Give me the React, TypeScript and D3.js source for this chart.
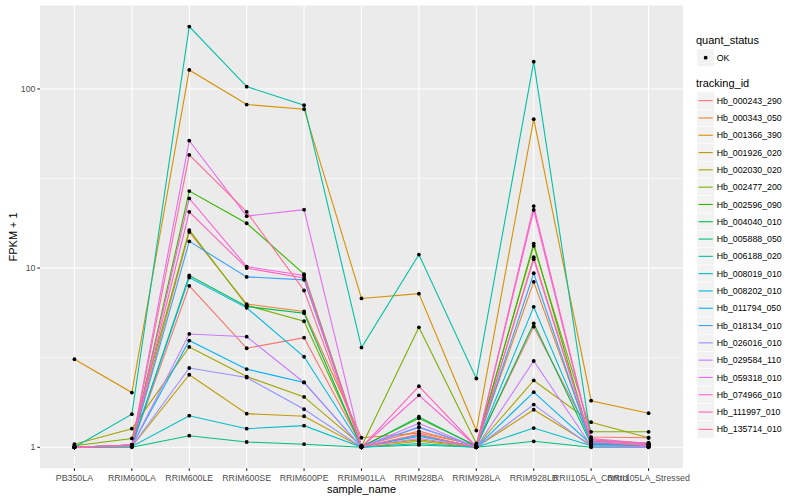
import React from "react";
import * as d3 from "d3";

const categories = [
  "PB350LA", "RRIM600LA", "RRIM600LE", "RRIM600SE", "RRIM600PE", "RRIM901LA",
  "RRIM928BA", "RRIM928LA", "RRIM928LB", "RRII105LA_Control", "RRII105LA_Stressed",
];

const trackingIds = [
  "Hb_000243_290", "Hb_000343_050", "Hb_001366_390", "Hb_001926_020", "Hb_002030_020",
  "Hb_002477_200", "Hb_002596_090", "Hb_004040_010", "Hb_005888_050", "Hb_006188_020",
  "Hb_008019_010", "Hb_008202_010", "Hb_011794_050", "Hb_018134_010", "Hb_026016_010",
  "Hb_029584_110", "Hb_059318_010", "Hb_074966_010", "Hb_111997_010", "Hb_135714_010",
];

const seriesColors = [
  "#F8766D", "#EA8331", "#D89000", "#C09B00", "#A3A500", "#7CAE00", "#39B600", "#00BB4E",
  "#00BF7D", "#00C1A3", "#00BFC4", "#00BAE0", "#00B0F6", "#35A2FF", "#9590FF", "#C77CFF",
  "#E76BF3", "#FA62DB", "#FF62BC", "#FF6C91",
];

const s000243_290 = [1.0, 1.02, 7.96, 3.57, 4.09, 1.02, 1.23, 1.02, 4.71, 1.14, 1.13];
const s000343_050 = [1.0, 1.03, 15.9, 6.3, 5.73, 1.13, 1.2, 1.03, 8.38, 1.08, 1.06];
const s001366_390 = [3.1, 2.02, 127.6, 81.8, 77.1, 6.77, 7.2, 1.24, 67.8, 1.82, 1.55];
const s001926_020 = [1.0, 1.01, 2.54, 1.54, 1.49, 1.0, 1.08, 1.0, 1.62, 1.03, 1.02];
const s002030_020 = [1.04, 1.27, 3.63, 2.48, 1.91, 1.02, 1.1, 1.01, 2.36, 1.38, 1.13];
const s002477_200 = [1.02, 1.12, 16.3, 6.2, 5.05, 1.01, 4.67, 1.05, 13.3, 1.22, 1.22];
const s002596_090 = [1.0, 1.03, 26.9, 17.8, 9.25, 1.01, 1.45, 1.02, 13.7, 1.05, 1.03];
const s004040_010 = [1.0, 1.02, 9.1, 6.1, 5.6, 1.0, 1.48, 1.01, 4.92, 1.04, 1.02];
const s005888_050 = [1.0, 1.0, 1.16, 1.07, 1.04, 1.0, 1.03, 1.0, 1.08, 1.0, 1.0];
const s006188_020 = [1.0, 1.53, 223, 103, 81.2, 3.6, 11.9, 2.42, 142, 1.1, 1.05];
const s008019_010 = [1.0, 1.01, 1.5, 1.27, 1.32, 1.0, 1.05, 1.0, 1.28, 1.02, 1.01];
const s008202_010 = [1.0, 1.02, 8.86, 6.0, 3.2, 1.01, 1.15, 1.01, 6.08, 1.06, 1.03];
const s011794_050 = [1.0, 1.02, 3.94, 2.73, 2.3, 1.0, 1.17, 1.0, 2.03, 1.04, 1.04];
const s018134_010 = [1.0, 1.03, 14.1, 8.93, 8.6, 1.01, 1.29, 1.01, 9.36, 1.05, 1.03];
const s026016_010 = [1.0, 1.01, 2.77, 2.45, 1.63, 1.0, 1.3, 1.0, 1.73, 1.01, 1.0];
const s029584_110 = [1.0, 1.02, 4.29, 4.14, 2.3, 1.0, 1.36, 1.0, 3.03, 1.02, 1.01];
const s059318_010 = [1.0, 1.03, 51.4, 19.5, 21.2, 1.01, 1.12, 1.01, 11.2, 1.07, 1.02];
const s074966_010 = [1.0, 1.03, 24.5, 10.2, 9.1, 1.0, 1.95, 1.01, 21.1, 1.1, 1.04];
const s111997_010 = [1.0, 1.03, 20.6, 10.0, 8.8, 1.0, 2.19, 1.01, 22.2, 1.12, 1.05];
const s135714_010 = [1.0, 1.02, 42.8, 20.6, 7.5, 1.01, 1.18, 1.0, 11.5, 1.08, 1.03];

const seriesValues = [
  s000243_290, s000343_050, s001366_390, s001926_020, s002030_020, s002477_200, s002596_090,
  s004040_010, s005888_050, s006188_020, s008019_010, s008202_010, s011794_050, s018134_010,
  s026016_010, s029584_110, s059318_010, s074966_010, s111997_010, s135714_010,
];

const yMajorTicks = [1, 10, 100];
const yMinorTicks = [Math.pow(10, 0.5), Math.pow(10, 1.5), Math.pow(10, 2.5)];

const W = 800;
const H = 500;
const panel = { left: 40, right: 683, top: 5.5, bottom: 468.3 };
const FONT = "'Liberation Sans', Arial, Helvetica, sans-serif";

export default function App() {
  const x = d3.scalePoint<string>().domain(categories).range([panel.left, panel.right]).padding(0.6);

  const allVals = seriesValues.flat();
  const lmin = Math.log10(d3.min(allVals) as number);
  const lmax = Math.log10(d3.max(allVals) as number);
  const ex = (lmax - lmin) * 0.05;
  const y = d3
    .scaleLog()
    .domain([Math.pow(10, lmin - ex), Math.pow(10, lmax + ex)])
    .range([panel.bottom, panel.top]);

  const line = d3
    .line<number>()
    .x((_, i) => x(categories[i]) as number)
    .y((v) => y(v));

  const legendX = 696;
  const keyX = 697;
  const keySize = 17.3;
  const trackTop = 92;

  return (
    <svg
      width={W}
      height={H}
      style={{ position: "absolute", left: 0, top: 0, background: "#fff" }}
      fontFamily={FONT}
    >
      <rect x={0} y={0} width={W} height={H} fill="#fff" />
      {/* panel */}
      <rect
        x={panel.left}
        y={panel.top}
        width={panel.right - panel.left}
        height={panel.bottom - panel.top}
        fill="#EBEBEB"
      />
      {yMinorTicks
        .filter((t) => y(t) >= panel.top && y(t) <= panel.bottom)
        .map((t) => (
          <line key={"mi" + t} x1={panel.left} x2={panel.right} y1={y(t)} y2={y(t)} stroke="#fff" strokeWidth={0.55} />
        ))}
      {yMajorTicks.map((t) => (
        <line key={"ma" + t} x1={panel.left} x2={panel.right} y1={y(t)} y2={y(t)} stroke="#fff" strokeWidth={1.1} />
      ))}
      {categories.map((c) => (
        <line key={"vx" + c} x1={x(c)} x2={x(c)} y1={panel.top} y2={panel.bottom} stroke="#fff" strokeWidth={1.1} />
      ))}

      {/* lines */}
      {seriesValues.map((vals, i) => (
        <path key={"l" + i} d={line(vals) as string} fill="none" stroke={seriesColors[i]} strokeWidth={1.1} />
      ))}
      {/* points */}
      {seriesValues.map((vals, i) =>
        vals.map((v, j) => (
          <circle key={"p" + i + "_" + j} cx={x(categories[j])} cy={y(v)} r={1.9} fill="#000" />
        ))
      )}

      {/* y axis */}
      {yMajorTicks.map((t) => (
        <g key={"yt" + t}>
          <line x1={panel.left - 2.75} x2={panel.left} y1={y(t)} y2={y(t)} stroke="#333" strokeWidth={1.1} />
          <text x={panel.left - 4.5} y={y(t)} dy="0.35em" textAnchor="end" fontSize={8.8} fill="#4D4D4D">
            {t}
          </text>
        </g>
      ))}
      {/* x axis */}
      {categories.map((c) => (
        <g key={"xt" + c}>
          <line x1={x(c)} x2={x(c)} y1={panel.bottom} y2={panel.bottom + 2.75} stroke="#333" strokeWidth={1.1} />
          <text x={x(c)} y={panel.bottom + 12.5} textAnchor="middle" fontSize={8.8} fill="#4D4D4D">
            {c}
          </text>
        </g>
      ))}
      <text x={(panel.left + panel.right) / 2} y={492.5} textAnchor="middle" fontSize={11} fill="#000">
        sample_name
      </text>
      <text
        transform={`translate(16.5, ${(panel.top + panel.bottom) / 2}) rotate(-90)`}
        textAnchor="middle"
        fontSize={11}
        fill="#000"
      >
        FPKM + 1
      </text>

      {/* legend: quant_status */}
      <text x={legendX} y={44} fontSize={11} fill="#000">
        quant_status
      </text>
      <rect x={keyX} y={49} width={keySize} height={keySize} fill="#F2F2F2" stroke="#fff" strokeWidth={0.5} />
      <circle cx={keyX + keySize / 2} cy={49 + keySize / 2} r={1.9} fill="#000" />
      <text x={716.7} y={49 + keySize / 2} dy="0.35em" fontSize={8.8} fill="#000">
        OK
      </text>

      {/* legend: tracking_id */}
      <text x={legendX} y={87} fontSize={11} fill="#000">
        tracking_id
      </text>
      {trackingIds.map((id, i) => {
        const ty = trackTop + i * keySize;
        return (
          <g key={"lg" + id}>
            <rect x={keyX} y={ty} width={keySize} height={keySize} fill="#F2F2F2" stroke="#fff" strokeWidth={0.5} />
            <line
              x1={keyX + 1.5}
              x2={keyX + keySize - 1.5}
              y1={ty + keySize / 2}
              y2={ty + keySize / 2}
              stroke={seriesColors[i]}
              strokeWidth={1.1}
            />
            <text x={716.7} y={ty + keySize / 2} dy="0.35em" fontSize={8.8} fill="#000">
              {id}
            </text>
          </g>
        );
      })}
    </svg>
  );
}
